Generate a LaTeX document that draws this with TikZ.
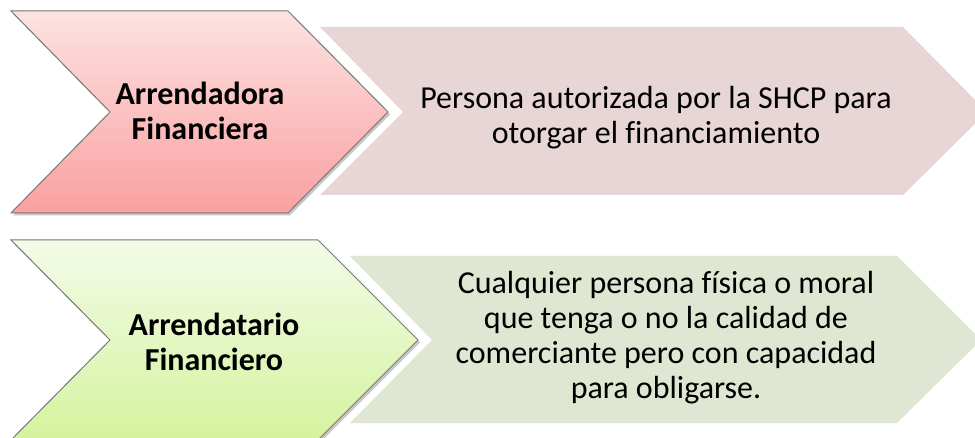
\documentclass[tikz,border=0pt]{standalone}
\usepackage{fontspec}
\setmainfont{Carlito}[Ligatures=NoCommon]
\usetikzlibrary{shadows}
\definecolor{pinkTop}{RGB}{253,226,226}
\definecolor{pinkBot}{RGB}{250,160,160}
\definecolor{greenTop}{RGB}{243,251,232}
\definecolor{greenBot}{RGB}{213,243,158}
\definecolor{descPink}{RGB}{232,213,213}
\definecolor{descGreen}{RGB}{223,231,211}
\definecolor{edgeGray}{RGB}{120,120,120}
\tikzset{
  chev/.style={draw=edgeGray, line width=1pt, line join=miter,
    drop shadow={shadow xshift=2pt, shadow yshift=-2.5pt, opacity=0.22, fill=black}},
  labeltext/.style={align=center, font=\fontsize{32}{35}\selectfont\bfseries, text=black, inner sep=0pt},
  desctext/.style={align=center, font=\fontsize{32}{35}\selectfont, text=black, inner sep=0pt}
}
\begin{document}
\begin{tikzpicture}[x=1pt,y=-1pt]
\useasboundingbox (0,0) rectangle (975,438);
\fill[white] (0,0) rectangle (975,438);
\begin{scope}
\clip (0,0) rectangle (975,438);
% description shapes
\fill[descPink] (320,27) -- (903,27) -- (987,112) -- (903,195) -- (320,195) -- (403,112) -- cycle;
\fill[descGreen] (350,256) -- (897,256) -- (981,340) -- (897,423) -- (350,423) -- (432,340) -- cycle;
% chevrons
\path[chev, top color=pinkTop, bottom color=pinkBot]
  (11,11) -- (288,11) -- (388,112) -- (288,213) -- (11,213) -- (110,112) -- cycle;
\path[chev, top color=greenTop, bottom color=greenBot]
  (11,240) -- (318,240) -- (418,340) -- (318,440) -- (11,440) -- (110,340) -- cycle;
\end{scope}
% texts
\node[labeltext] (l1) at (200,111) {Arrendadora\\Financiera};
\node[desctext] (d1) at (656,118) {Persona autorizada por la SHCP para\\otorgar el financiamiento};
\node[labeltext] (l2) at (214,342) {Arrendatario\\Financiero};
\node[desctext] (d2) at (666,338) {Cualquier persona física o moral\\que tenga o no la calidad de\\comerciante pero con capacidad\\para obligarse.};
\end{tikzpicture}
\end{document}
